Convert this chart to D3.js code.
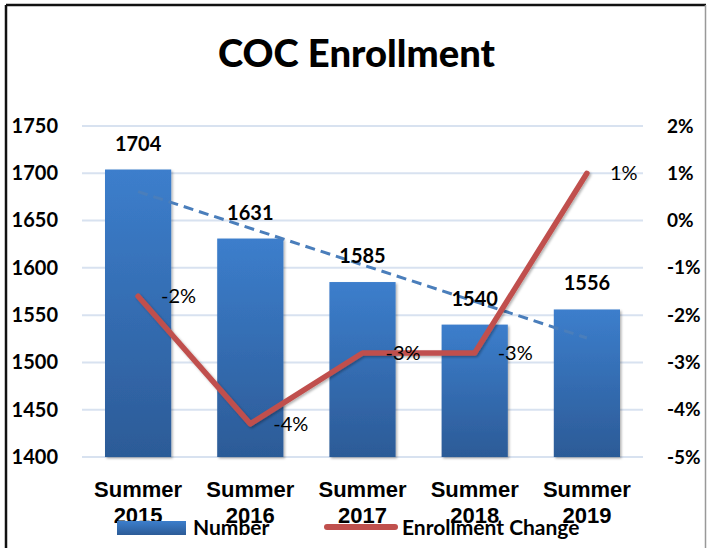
<!DOCTYPE html>
<html>
<head>
<meta charset="utf-8">
<title>COC Enrollment</title>
<style>
    body { margin: 0; background: #fff; }
    svg { display: block; font-family: Lato, "Open Sans", sans-serif; }
</style>
</head>
<body>
<div id="chart"></div>
<script src="https://d3js.org/d3.v7.min.js"></script>
<script>
    // data
    const terms = ["Summer 2015", "Summer 2016", "Summer 2017", "Summer 2018", "Summer 2019"];
    const enrollment = [1704, 1631, 1585, 1540, 1556];
    const change = [-0.016, -0.043, -0.028, -0.028, 0.010];
    const leftTicks = [1400, 1450, 1500, 1550, 1600, 1650, 1700, 1750];
    const rightTicks = [-0.05, -0.04, -0.03, -0.02, -0.01, 0, 0.01, 0.02];

    const W = 707, H = 548;
    const x0 = 82, x1 = 643, yTop = 126, yBot = 457;

    const svg = d3.select('#chart').append('svg')
        .attr('width', W).attr('height', H);

    const defs = svg.append('defs');
    const grad = defs.append('linearGradient')
        .attr('id', 'barGrad').attr('x1', 0).attr('y1', 0).attr('x2', 0).attr('y2', 1);
    grad.append('stop').attr('offset', '0%').attr('stop-color', '#3c7ecc');
    grad.append('stop').attr('offset', '100%').attr('stop-color', '#2c5b97');
    defs.append('filter').attr('id', 'shadow')
        .attr('x', '-20%').attr('y', '-20%').attr('width', '140%').attr('height', '140%')
        .append('feDropShadow')
        .attr('dx', 1.5).attr('dy', 1.5).attr('stdDeviation', 1.2)
        .attr('flood-color', '#000').attr('flood-opacity', 0.3);

    // frame
    svg.append('line').attr('x1', 6).attr('y1', 5).attr('x2', 706).attr('y2', 5)
        .attr('stroke', '#111').attr('stroke-width', 2.5);
    svg.append('line').attr('x1', 6).attr('y1', 5).attr('x2', 6).attr('y2', H)
        .attr('stroke', '#111').attr('stroke-width', 2.5);
    svg.append('line').attr('x1', 705.5).attr('y1', 5).attr('x2', 705.5).attr('y2', H)
        .attr('stroke', '#999').attr('stroke-width', 1.5);

    // title
    svg.append('text')
        .attr('x', 356.5).attr('y', 67)
        .attr('text-anchor', 'middle')
        .style('font-size', '37px').style('font-weight', 900)
        .attr('textLength', 277).attr('lengthAdjust', 'spacingAndGlyphs')
        .text('COC Enrollment');

    // scales
    const x = d3.scaleBand().domain(terms).range([x0, x1])
        .paddingInner(0.41).paddingOuter(0.205);
    const yL = d3.scaleLinear().domain([1400, 1750]).range([yBot, yTop]);
    const yR = d3.scaleLinear().domain([-0.05, 0.02]).range([yBot, yTop]);
    const pct = d => Math.round(d * 100) + '%';

    // gridlines
    svg.append('g').selectAll('line')
        .data(leftTicks).enter().append('line')
        .attr('x1', x0).attr('x2', x1)
        .attr('y1', d => yL(d)).attr('y2', d => yL(d))
        .attr('stroke', '#d8e2f0').attr('stroke-width', 2);

    // axes
    const axL = svg.append('g').attr('transform', `translate(${x0},0)`)
        .call(d3.axisLeft(yL).tickValues(leftTicks).tickFormat(d3.format('d')).tickSize(0).tickPadding(24));
    const axR = svg.append('g').attr('transform', `translate(${x1},0)`)
        .call(d3.axisRight(yR).tickValues(rightTicks).tickFormat(pct).tickSize(0).tickPadding(24));
    [axL, axR].forEach(a => {
        a.select('.domain').remove();
        a.selectAll('text').style('font-family', 'Lato, sans-serif')
            .style('font-weight', 700).attr('fill', '#000');
    });
    axL.selectAll('text').style('font-size', '20px');
    axR.selectAll('text').style('font-size', '19px');

    const axB = svg.append('g').attr('transform', `translate(0,${yBot})`)
        .call(d3.axisBottom(x).tickSize(0).tickFormat(''));
    axB.select('.domain').remove();
    axB.selectAll('.tick text').remove();
    axB.selectAll('.tick').append('text')
        .attr('text-anchor', 'middle')
        .style('font-size', '22px').style('font-weight', 700).attr('fill', '#000')
        .each(function(d) {
            const parts = d.split(' ');
            d3.select(this).append('tspan').attr('x', 0).attr('y', 40).text(parts[0]);
            d3.select(this).append('tspan').attr('x', 0).attr('y', 66).text(parts[1]);
        });

    // bars
    svg.append('g').selectAll('rect')
        .data(enrollment).enter().append('rect')
        .attr('x', (d, i) => x(terms[i]))
        .attr('y', d => yL(d))
        .attr('width', x.bandwidth())
        .attr('height', d => yBot - yL(d))
        .attr('fill', 'url(#barGrad)')
        .attr('filter', 'url(#shadow)');

    // linear trendline on enrollment
    const n = enrollment.length;
    const mx = d3.mean(enrollment, (d, i) => i);
    const my = d3.mean(enrollment);
    const slope = d3.sum(enrollment, (d, i) => (i - mx) * (d - my)) / d3.sum(enrollment, (d, i) => (i - mx) * (i - mx));
    const cx = i => x(terms[i]) + x.bandwidth() / 2;
    svg.append('line')
        .attr('x1', cx(0)).attr('y1', yL(my + slope * (0 - mx)))
        .attr('x2', cx(n - 1)).attr('y2', yL(my + slope * (n - 1 - mx)))
        .attr('stroke', '#4a7ebb').attr('stroke-width', 3)
        .attr('stroke-dasharray', '10,6');

    // enrollment change line
    const line = d3.line().x((d, i) => cx(i)).y(d => yR(d));
    svg.append('path').datum(change)
        .attr('d', line)
        .attr('fill', 'none')
        .attr('stroke', '#c0504d').attr('stroke-width', 5.5)
        .attr('stroke-linejoin', 'round').attr('stroke-linecap', 'round')
        .attr('filter', 'url(#shadow)');

    // bar labels
    svg.append('g').selectAll('text')
        .data(enrollment).enter().append('text')
        .attr('x', (d, i) => cx(i))
        .attr('y', d => yL(d) - 19)
        .attr('text-anchor', 'middle')
        .style('font-size', '20px').style('font-weight', 700)
        .text(d => d);

    // change labels
    svg.append('g').selectAll('text')
        .data(change).enter().append('text')
        .attr('x', (d, i) => cx(i) + 23)
        .attr('y', d => yR(d) + 7)
        .style('font-size', '20px').attr('fill', '#000')
        .text(pct);

    // legend
    const lg = svg.append('g');
    lg.append('rect').attr('x', 117).attr('y', 521).attr('width', 69).attr('height', 14)
        .attr('fill', 'url(#barGrad)');
    lg.append('text').attr('x', 193).attr('y', 535)
        .style('font-size', '21px').style('font-weight', 700)
        .text('Number');
    lg.append('line').attr('x1', 327).attr('x2', 395).attr('y1', 527).attr('y2', 527)
        .attr('stroke', '#c0504d').attr('stroke-width', 6).attr('stroke-linecap', 'round');
    lg.append('text').attr('x', 402).attr('y', 535)
        .style('font-size', '21px').style('font-weight', 700)
        .text('Enrollment Change');
</script>
</body>
</html>
